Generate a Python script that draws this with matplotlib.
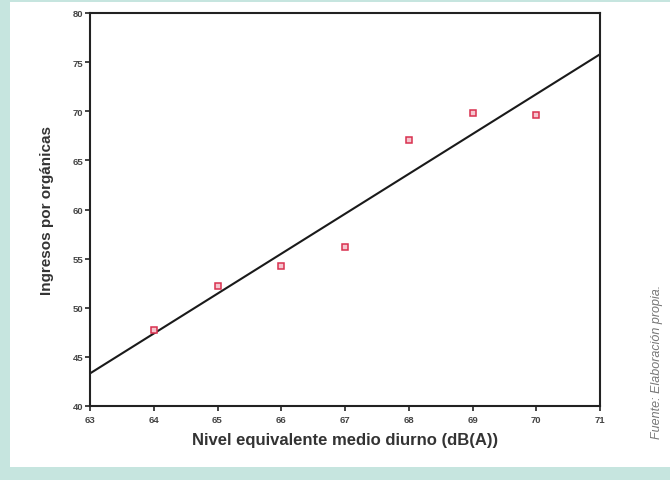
import numpy as np
import matplotlib.pyplot as plt
from matplotlib.patches import Rectangle

plt.rcParams['font.family'] = ['Liberation Sans', 'DejaVu Sans']

# Datos
nivel = [64, 65, 66, 67, 68, 69, 70]
ingresos = [47.7, 52.2, 54.3, 56.2, 67.1, 69.8, 69.6]
x_ticks = [63, 64, 65, 66, 67, 68, 69, 70, 71]
y_ticks = [40, 45, 50, 55, 60, 65, 70, 75, 80]

fig = plt.figure(figsize=(6.70, 4.81), dpi=100)
fig.patch.set_facecolor('#c6e5df')
# recuadro blanco detrás del gráfico
fig.add_artist(Rectangle((10 / 670, 1 - 468 / 481), 1 - 10 / 670, 465 / 481,
                         transform=fig.transFigure, facecolor='white',
                         edgecolor='none', zorder=-10))

ax = fig.add_axes([90 / 670, 1 - 407 / 481, 510 / 670, 393 / 481])
ax.set_facecolor('white')

# recta de regresión
m, b = np.polyfit(nivel, ingresos, 1)
xr = np.array([x_ticks[0], x_ticks[-1]])
ax.plot(xr, m * xr + b, color='#1a1a1a', lw=1.5, zorder=2)

ax.plot(nivel, ingresos, 's', ms=4.5, mfc='#f5c6cf', mec='#d9304f', mew=1.1, zorder=3)

ax.set_xlim(63, 71)
ax.set_ylim(40, 80)
ax.set_xticks(x_ticks)
ax.set_yticks(y_ticks)
ax.tick_params(direction='out', length=3.5, width=1.2, color='#222',
               labelsize=6.8, labelcolor='#444')
ax.tick_params(axis='x', pad=3)
ax.tick_params(axis='y', pad=1.5)
for lab in ax.get_xticklabels() + ax.get_yticklabels():
    lab.set_fontweight('bold')
for s in ax.spines.values():
    s.set_linewidth(1.5)
    s.set_color('#222')

ax.set_xlabel('Nivel equivalente medio diurno (dB(A))', fontsize=12, fontweight='bold',
              color='#333', labelpad=6)
ax.set_ylabel('Ingresos por orgánicas', fontsize=11, fontweight='bold',
              color='#333', labelpad=13)

fig.text(657 / 670, 1 - 362 / 481, 'Fuente: Elaboración propia.', rotation=90,
         fontsize=9, style='italic', color='#777', ha='center', va='center')

fig.savefig('out.png', dpi=100, facecolor=fig.get_facecolor())
